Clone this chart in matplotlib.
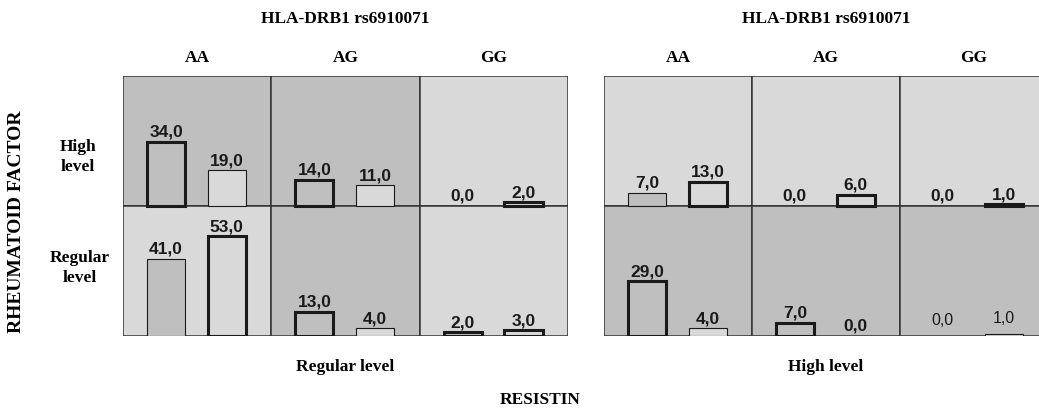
import matplotlib
matplotlib.use("Agg")
import matplotlib.pyplot as plt
from matplotlib.patches import Rectangle

# data
genotypes = ["AA", "AG", "GG"]
rf_levels = ["High\nlevel", "Regular\nlevel"]
resistin_levels = ["Regular level", "High level"]

# values per cell: [first bar, second bar]
reg_res_high_rf = [[34, 19], [14, 11], [0, 2]]
reg_res_reg_rf = [[41, 53], [13, 4], [2, 3]]
high_res_high_rf = [[7, 13], [0, 6], [0, 1]]
high_res_reg_rf = [[29, 4], [7, 0], [0, 1]]

# styling
DARK = "#bfbfbf"
LIGHT = "#d9d9d9"
EDGE = "#1a1a1a"
THICK, THIN = 2.2, 0.8
ROW_H = 69.0

# cell backgrounds (top row, bottom row)
bg_left = [[DARK, DARK, LIGHT], [LIGHT, DARK, LIGHT]]
bg_right = [[LIGHT, LIGHT, LIGHT], [DARK, DARK, DARK]]
# edge widths of bars
lw_left = [[[THICK, THIN], [THICK, THIN], [THIN, THICK]],
           [[THIN, THICK], [THICK, THIN], [THICK, THICK]]]
lw_right = [[[THIN, THICK], [THIN, THICK], [THIN, THICK]],
            [[THICK, THIN], [THICK, THIN], [THIN, THIN]]]

plt.rcParams["font.family"] = ["Liberation Sans", "DejaVu Sans"]
fig = plt.figure(figsize=(10.39, 4.10), dpi=100, facecolor="white")

serif = dict(family="Liberation Serif", fontweight="bold")


def draw_panel(ax, top_vals, bot_vals, bgs, lws, light_last=False):
    ax.set_xlim(0, 3)
    ax.set_ylim(0, 2 * ROW_H)
    for r, vals in enumerate([top_vals, bot_vals]):
        base = ROW_H if r == 0 else 0
        for c in range(3):
            ax.add_patch(Rectangle((c, base), 1, ROW_H, facecolor=bgs[r][c],
                                   edgecolor="#333333", lw=1.1, zorder=0))
            xs = [c + 0.29, c + 0.70]
            fills = [DARK, LIGHT]
            for k in range(2):
                v = vals[c][k]
                if v > 0:
                    ax.bar(xs[k], v, width=0.257, bottom=base, color=fills[k],
                           edgecolor=EDGE, linewidth=lws[r][c][k], zorder=2)
                txt = f"{v:.1f}".replace(".", ",")
                if light_last and r == 1 and c == 2:
                    ax.text(xs[k], base + v + 5.0, txt, ha="center", va="bottom",
                            fontsize=11.5, color="#1a1a1a", zorder=3)
                else:
                    ax.text(xs[k], base + v + 1.6, txt, ha="center", va="bottom",
                            fontsize=12.5, fontweight="bold", color="#1a1a1a", zorder=3)
    ax.axis("off")


axL = fig.add_axes([123 / 1039, 1 - 337 / 410, 445 / 1039, 260 / 410])
axR = fig.add_axes([604 / 1039, 1 - 337 / 410, 444 / 1039, 260 / 410])
draw_panel(axL, reg_res_high_rf, reg_res_reg_rf, bg_left, lw_left)
draw_panel(axR, high_res_high_rf, high_res_reg_rf, bg_right, lw_right, light_last=True)

for ax, lab in zip([axL, axR], resistin_levels):
    ax.text(1.5, 2 * ROW_H + 31, "HLA-DRB1 rs6910071", ha="center", va="center",
            fontsize=12.5, **serif)
    for c, g in enumerate(genotypes):
        ax.text(c + 0.5, 2 * ROW_H + 10, g, ha="center", va="center",
                fontsize=12.5, **serif)
    ax.text(1.5, -16, lab, ha="center", va="center", fontsize=12.5, **serif)

# row labels
fig.text(78 / 1039, 1 - 157 / 410, rf_levels[0], ha="center", va="center",
         fontsize=12.5, linespacing=1.4, **serif)
fig.text(80 / 1039, 1 - 268 / 410, rf_levels[1], ha="center", va="center",
         fontsize=12.5, linespacing=1.4, **serif)
fig.text(17 / 1039, 1 - 222 / 410, "RHEUMATOID FACTOR", rotation=90,
         ha="center", va="center", fontsize=14, **serif)
fig.text(540 / 1039, 1 - 400 / 410, "RESISTIN", ha="center", va="center",
         fontsize=12.5, **serif)

fig.savefig("out.png", dpi=100, facecolor="white")
